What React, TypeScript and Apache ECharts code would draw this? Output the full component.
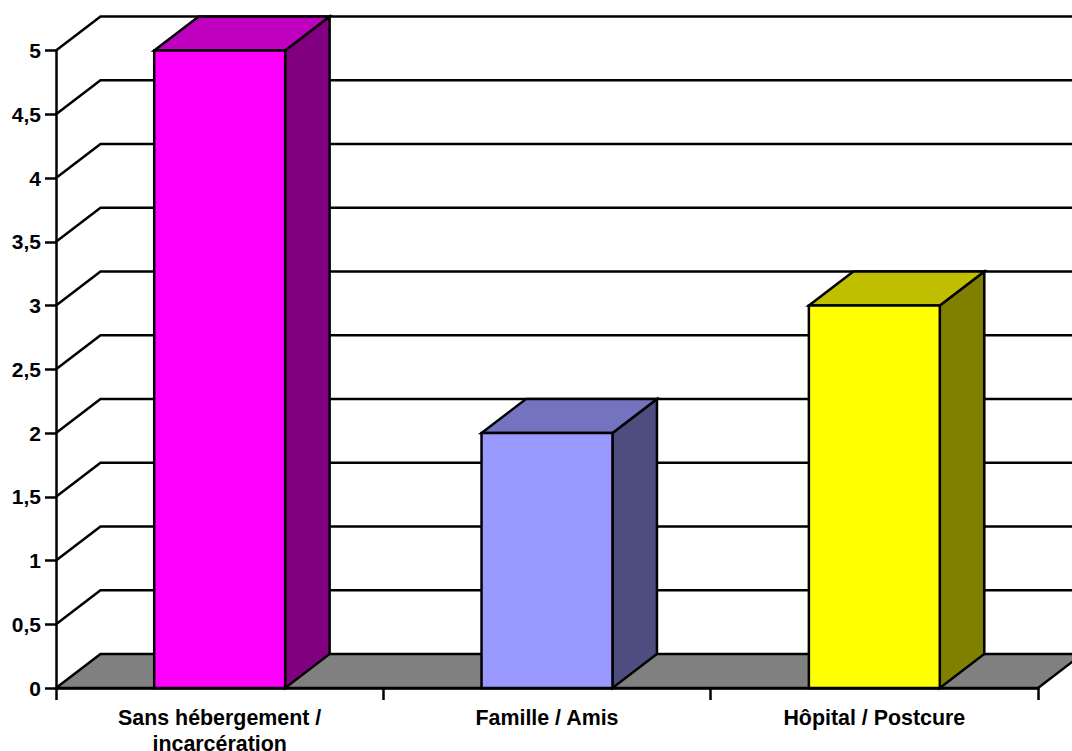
import React, { useEffect, useRef } from "react";
import * as echarts from "echarts";

const categories = ["Sans hébergement /\nincarcération", "Famille / Amis", "Hôpital / Postcure"];
const values = [5, 2, 3];
const frontColors = ["#FF00FF", "#9999FF", "#FFFF00"];
const topColors = ["#BF00BF", "#7373BF", "#BFBF00"];
const sideColors = ["#800080", "#4D4D80", "#808000"];
const wallTicks = [0.5, 1, 1.5, 2, 2.5, 3, 3.5, 4, 4.5, 5];

const DEPTH_X = 44.5;
const DEPTH_Y = 34;
const BAR_SHARE = 0.4;
const INK = "#000000";
const EDGE = { stroke: INK, lineWidth: 2.5, lineJoin: "miter" as const };

export default function App() {
  const ref = useRef<HTMLDivElement>(null);

  useEffect(() => {
    document.body.style.margin = "0";
    const chart = echarts.init(ref.current!, undefined, { renderer: "svg" });

    // Receding floor, as a single polygon behind the bars.
    const renderFloor = (params: any, api: any) => {
      const cs = params.coordSys;
      const y = api.coord([0, 0])[1];
      const l = cs.x;
      const r = cs.x + cs.width;
      return {
        type: "polygon",
        shape: {
          points: [
            [l, y],
            [l + DEPTH_X, y - DEPTH_Y],
            [r + DEPTH_X, y - DEPTH_Y],
            [r, y],
          ],
        },
        style: { fill: "#808080", ...EDGE },
      };
    };

    // Gridlines: a slanted run on the side wall, then across the back wall.
    const renderWall = (params: any, api: any) => {
      const cs = params.coordSys;
      const y = api.coord([0, api.value(0)])[1];
      const l = cs.x;
      const r = cs.x + cs.width;
      return {
        type: "polyline",
        shape: {
          points: [
            [l, y],
            [l + DEPTH_X, y - DEPTH_Y],
            [r + DEPTH_X, y - DEPTH_Y],
          ],
        },
        style: { fill: "none", ...EDGE },
      };
    };

    // Box with front, top and side faces.
    const renderBar = (_params: any, api: any) => {
      const i = api.value(0);
      const [cx, top] = api.coord([i, api.value(1)]);
      const base = api.coord([i, 0])[1];
      const w = api.size([1, 0])[0] * BAR_SHARE;
      const l = cx - w / 2;
      const r = cx + w / 2;
      return {
        type: "group",
        children: [
          {
            type: "polygon",
            shape: {
              points: [
                [r, top],
                [r + DEPTH_X, top - DEPTH_Y],
                [r + DEPTH_X, base - DEPTH_Y],
                [r, base],
              ],
            },
            style: { fill: sideColors[i], ...EDGE },
          },
          {
            type: "polygon",
            shape: {
              points: [
                [l, top],
                [l + DEPTH_X, top - DEPTH_Y],
                [r + DEPTH_X, top - DEPTH_Y],
                [r, top],
              ],
            },
            style: { fill: topColors[i], ...EDGE },
          },
          {
            type: "rect",
            shape: { x: l, y: top, width: w, height: base - top },
            style: { fill: frontColors[i], ...EDGE },
          },
        ],
      };
    };

    const labelFont = {
      color: INK,
      fontFamily: "Liberation Sans",
      fontWeight: "bold" as const,
    };
    const axisStroke = { color: INK, width: 2.5 };

    chart.setOption({
      animation: false,
      backgroundColor: "#FFFFFF",
      grid: { left: 56, right: 34, top: 50.5, bottom: 63, containLabel: false, outerBoundsMode: "none" },
      xAxis: {
        type: "category",
        data: categories,
        axisLine: { lineStyle: axisStroke },
        axisTick: { show: true, interval: 0, length: 12, lineStyle: axisStroke },
        axisLabel: { ...labelFont, fontSize: 21.4, margin: 17, lineHeight: 26, interval: 0 },
        splitLine: { show: false },
      },
      yAxis: {
        type: "value",
        min: 0,
        max: 5,
        interval: 0.5,
        axisLine: { show: true, lineStyle: axisStroke },
        axisTick: { show: true, length: 11, lineStyle: axisStroke },
        axisLabel: {
          ...labelFont,
          fontSize: 21,
          margin: 15,
          formatter: (v: number) => String(v).replace(".", ","),
        },
        splitLine: { show: false },
      },
      series: [
        { type: "custom", renderItem: renderFloor, data: [0], silent: true, z: 1 },
        {
          type: "custom",
          renderItem: renderWall,
          data: wallTicks.map((v) => [v]),
          encode: { y: 0 },
          silent: true,
          z: 1,
        },
        {
          type: "custom",
          renderItem: renderBar,
          data: values.map((v, i) => [i, v]),
          encode: { x: 0, y: 1 },
          silent: true,
          z: 2,
        },
      ],
    });

    return () => chart.dispose();
  }, []);

  return <div ref={ref} style={{ width: 1072, height: 751, overflow: "hidden" }} />;
}
